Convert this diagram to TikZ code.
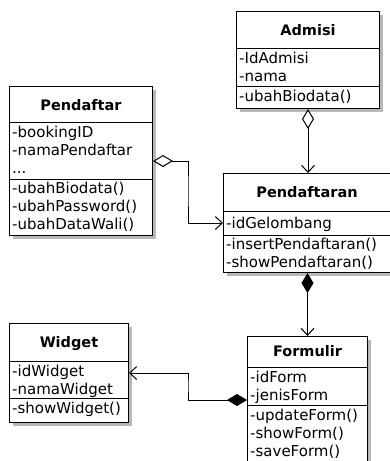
\documentclass[tikz,border=0pt]{standalone}
\usepackage{fontspec}
\setmainfont{DejaVu Sans}
\usetikzlibrary{arrows.meta,shadows}
\begin{document}
\begin{tikzpicture}[x=1pt,y=-1pt,
  classbox/.style={draw=black, line width=1pt, fill=white, inner sep=0pt, anchor=north west,
    drop shadow={shadow xshift=3.5pt, shadow yshift=-3.5pt, fill=black!28, opacity=1}},
  sepline/.style={draw=black, line width=1pt},
  member/.style={anchor=base west, inner sep=0pt, font=\fontsize{15}{18}\selectfont},
  ctitle/.style={anchor=base, inner sep=0pt, font=\fontsize{14.5}{18}\selectfont\bfseries},
  conn/.style={draw=black, line width=1pt},
  aggr/.style={conn, {Diamond[open,length=20pt,width=12pt]}-{Straight Barb[length=7pt,width=13pt]}},
  compo/.style={conn, {Diamond[length=20pt,width=12pt]}-{Straight Barb[length=7pt,width=13pt]}}
]
\useasboundingbox (0,0) rectangle (390,461);
\clip (0,0) rectangle (390,461);

% Admisi
\node[classbox, minimum width=143pt, minimum height=97pt] (admisi) at (236,11) {};
\draw[sepline] (admisi.west |- 0,48) -- (admisi.east |- 0,48);
\draw[sepline] (admisi.west |- 0,86) -- (admisi.east |- 0,86);
\node[ctitle] (admisiT) at (admisi.north |- 0,35) {Admisi};
\node[member] (admisiA1) at (239,63) {-IdAdmisi};
\node[member] (admisiA2) at (239,81) {-nama};
\node[member] (admisiM1) at (239,101) {-ubahBiodata()};

% Pendaftar
\node[classbox, minimum width=143pt, minimum height=149pt] (pendaftar) at (9,86) {};
\draw[sepline] (pendaftar.west |- 0,122.5) -- (pendaftar.east |- 0,122.5);
\draw[sepline] (pendaftar.west |- 0,179) -- (pendaftar.east |- 0,179);
\node[ctitle] (pendaftarT) at (pendaftar.north |- 0,110) {Pendaftar};
\node[member] (pendaftarA1) at (12,137) {-bookingID};
\node[member] (pendaftarA2) at (12,155) {-namaPendaftar};
\node[member] (pendaftarA3) at (12,173.5) {...};
\node[member] (pendaftarM1) at (12,193) {-ubahBiodata()};
\node[member] (pendaftarM2) at (12,211) {-ubahPassword()};
\node[member] (pendaftarM3) at (12,229) {-ubahDataWali()};

% Pendaftaran
\node[classbox, minimum width=167pt, minimum height=99pt] (pendaftaran) at (223,173) {};
\draw[sepline] (pendaftaran.west |- 0,211) -- (pendaftaran.east |- 0,211);
\draw[sepline] (pendaftaran.west |- 0,235) -- (pendaftaran.east |- 0,235);
\node[ctitle] (pendaftaranT) at (pendaftaran.north |- 0,197) {Pendaftaran};
\node[member] (pendaftaranA1) at (226,228) {-idGelombang};
\node[member] (pendaftaranM1) at (226,249) {-insertPendaftaran()};
\node[member] (pendaftaranM2) at (226,267) {-showPendaftaran()};

% Widget
\node[classbox, minimum width=119pt, minimum height=99pt] (widget) at (9,323) {};
\draw[sepline] (widget.west |- 0,361) -- (widget.east |- 0,361);
\draw[sepline] (widget.west |- 0,398) -- (widget.east |- 0,398);
\node[ctitle] (widgetT) at (widget.north |- 0,347) {Widget};
\node[member] (widgetA1) at (12,376) {-idWidget};
\node[member] (widgetA2) at (12,394) {-namaWidget};
\node[member] (widgetM1) at (12,413) {-showWidget()};

% Formulir
\node[classbox, minimum width=120pt, minimum height=127pt] (formulir) at (247,336) {};
\draw[sepline] (formulir.west |- 0,367) -- (formulir.east |- 0,367);
\draw[sepline] (formulir.west |- 0,405) -- (formulir.east |- 0,405);
\node[ctitle] (formulirT) at (formulir.north |- 0,356) {Formulir};
\node[member] (formulirA1) at (250,382) {-idForm};
\node[member] (formulirA2) at (250,400) {-jenisForm};
\node[member] (formulirM1) at (250,420) {-updateForm()};
\node[member] (formulirM2) at (250,438) {-showForm()};
\node[member] (formulirM3) at (250,456) {-saveForm()};

% connectors
\coordinate (bendA) at (188,190);
\coordinate (bendB) at (188,385);
\draw[aggr] (admisi.south) -- (admisi.south |- pendaftaran.north);
\draw[aggr] (pendaftar.east) -| (bendA) |- (pendaftaran.west);
\draw[compo] (formulir.north |- pendaftaran.south) -- (formulir.north);
\draw[compo] (formulir.west) -| (bendB) |- (widget.east);
\end{tikzpicture}
\end{document}
